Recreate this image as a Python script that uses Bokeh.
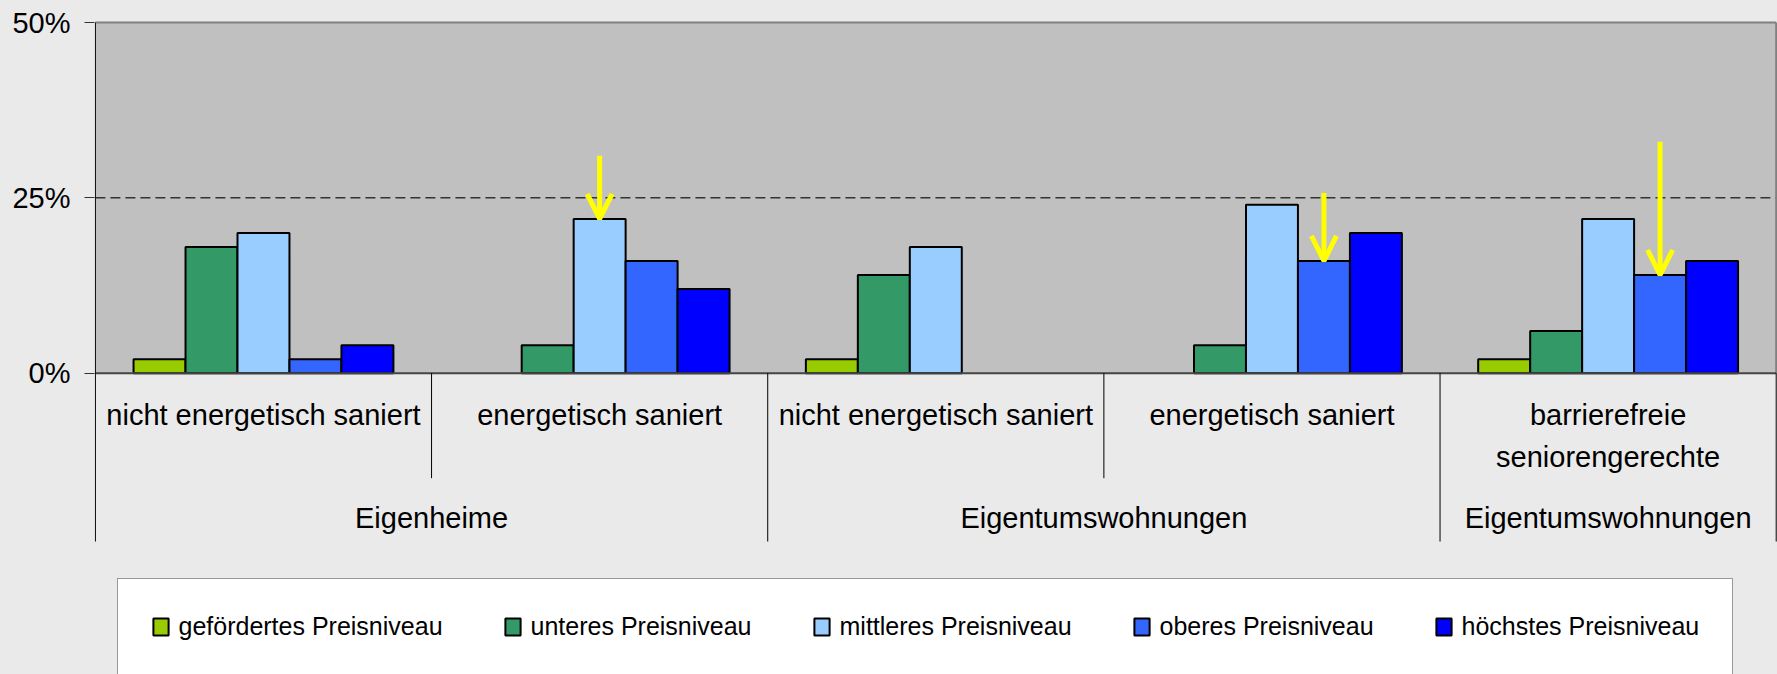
from bokeh.plotting import figure
from bokeh.models import Range1d, FixedTicker, Arrow, OpenHead, GlobalInlineStyleSheet
from bokeh.core.properties import value
from bokeh.embed import file_html
from bokeh.resources import INLINE

# ---------------- data ----------------
sub_labels = ["nicht energetisch saniert", "energetisch saniert",
              "nicht energetisch saniert", "energetisch saniert",
              "barrierefreie\nseniorengerechte"]
group_labels = ["Eigenheime", "Eigentumswohnungen", "Eigentumswohnungen"]
group_sizes = [2, 2, 1]

series_names = ["gefördertes Preisniveau", "unteres Preisniveau", "mittleres Preisniveau",
                "oberes Preisniveau", "höchstes Preisniveau"]
gefoerdert = [2, None, 2, None, 2]
unteres = [18, 4, 14, 4, 6]
mittleres = [20, 22, 18, 24, 22]
oberes = [2, 16, None, 16, 14]
hoechstes = [4, 12, None, 20, 16]
series_values = [gefoerdert, unteres, mittleres, oberes, hoechstes]
series_colors = ["#99CC00", "#339966", "#99CCFF", "#3366FF", "#0000FF"]

y_ticks = [0, 25, 50]
y_tick_labels = ["0%", "25%", "50%"]
reference_level = 25

arrow_category = [1, 3, 4]
arrow_series = [2, 3, 3]
arrow_from = [31, 25.7, 33]

# ---------------- layout ----------------
FONT = "Liberation Sans"
W, H = 1777, 674
FRAME_LEFT = 94
PLOT_X0, PLOT_X1 = 94.9, 1775.7
PLOT_Y_TOP, PLOT_Y_ZERO = 22.0, 372.7
n = len(sub_labels)
ymax = y_ticks[-1]
ux = (PLOT_X1 - PLOT_X0) / n
uy = (PLOT_Y_ZERO - PLOT_Y_TOP) / ymax

x_range = Range1d(-(PLOT_X0 - FRAME_LEFT) / ux, n + (W - PLOT_X1) / ux)
y_range = Range1d(-(H - PLOT_Y_ZERO) / uy, ymax + PLOT_Y_TOP / uy)

p = figure(width=W, height=H, x_range=x_range, y_range=y_range, x_axis_type=None,
           output_backend="svg", toolbar_location=None,
           min_border_left=FRAME_LEFT, min_border_right=0, min_border_top=0, min_border_bottom=0,
           background_fill_color="#EAEAEA", border_fill_color="#EAEAEA",
           outline_line_color=None,
           stylesheets=[GlobalInlineStyleSheet(css="html, body { background-color: #EAEAEA; }")])
p.ygrid.grid_line_color = None

# plot area background
p.quad(left=[0], right=[n], bottom=[0], top=[ymax], fill_color="#C0C0C0", line_color=None)

# reference dashed line
p.segment(x0=[0], x1=[n], y0=[reference_level], y1=[reference_level],
          line_color="#333333", line_width=1.5, line_dash="10 5")

# bars
bw = 0.1546
for s, (name, vals, color) in enumerate(zip(series_names, series_values, series_colors)):
    xs = [i + 0.5 + (s - 2) * bw for i, v in enumerate(vals) if v is not None]
    tops = [v for v in vals if v is not None]
    p.vbar(x=xs, top=tops, bottom=0, width=bw, fill_color=color,
           line_color="black", line_width=2, legend_label=name)

# borders of plot area
p.segment(x0=[0], x1=[n], y0=[ymax], y1=[ymax], line_color="#808080", line_width=2)
p.segment(x0=[n], x1=[n], y0=[0], y1=[ymax], line_color="#808080", line_width=2)
p.segment(x0=[0], x1=[n], y0=[0], y1=[0], line_color="#444444", line_width=2)

# category dividers
long_bounds = [0]
for g in group_sizes:
    long_bounds.append(long_bounds[-1] + g)
SHORT_END, LONG_END = -14.97, -24.0
bx0, by0, by1 = [], [], []
for b in range(n + 1):
    bx0.append(b)
    by0.append(ymax if b == 0 else 0)
    by1.append(LONG_END if b in long_bounds else SHORT_END)
p.segment(x0=bx0, x1=bx0, y0=by0, y1=by1, line_color="black", line_width=1)

# category labels
p.text(x=[i + 0.5 for i in range(n)], y=[-3.72] * n, text=sub_labels,
       text_align="center", text_baseline="top", text_font=value(FONT),
       text_font_size="29px", text_color="black", text_line_height=1.3)
group_x = [(long_bounds[k] + long_bounds[k + 1]) / 2 for k in range(len(group_labels))]
p.text(x=group_x, y=[-20.62] * len(group_labels), text=group_labels,
       text_align="center", text_baseline="alphabetic", text_font=value(FONT),
       text_font_size="29px", text_color="black")

# arrows
for c, s, y0 in zip(arrow_category, arrow_series, arrow_from):
    xa = c + 0.5 + (s - 2) * bw
    p.add_layout(Arrow(end=OpenHead(size=25, line_color="#FFFF00", line_width=5),
                       x_start=xa, y_start=y0, x_end=xa, y_end=series_values[s][c],
                       line_color="#FFFF00", line_width=5))

# y axis
p.yaxis.ticker = FixedTicker(ticks=y_ticks)
p.yaxis.major_label_overrides = {t: l for t, l in zip(y_ticks, y_tick_labels)}
p.yaxis.axis_line_color = None
p.yaxis.major_tick_out = 10
p.yaxis.major_tick_in = 0
p.yaxis.major_tick_line_color = "#333333"
p.yaxis.minor_tick_line_color = None
p.yaxis.major_label_standoff = 14
p.yaxis.major_label_text_font = FONT
p.yaxis.major_label_text_font_size = "29px"
p.yaxis.major_label_text_color = "black"

# legend
lg = p.legend[0]
lg.orientation = "horizontal"
lg.location = (22.5, -1)
lg.margin = 0
lg.padding = 33
lg.spacing = 60
lg.label_standoff = 9
lg.glyph_width = 19
lg.glyph_height = 21
lg.label_text_font = FONT
lg.label_text_font_size = "25px"
lg.label_text_color = "black"
lg.border_line_color = "#333333"
lg.border_line_width = 1
lg.background_fill_color = "white"
lg.background_fill_alpha = 1

open("out.html", "w").write(file_html(p, INLINE, title="Preisniveau"))
